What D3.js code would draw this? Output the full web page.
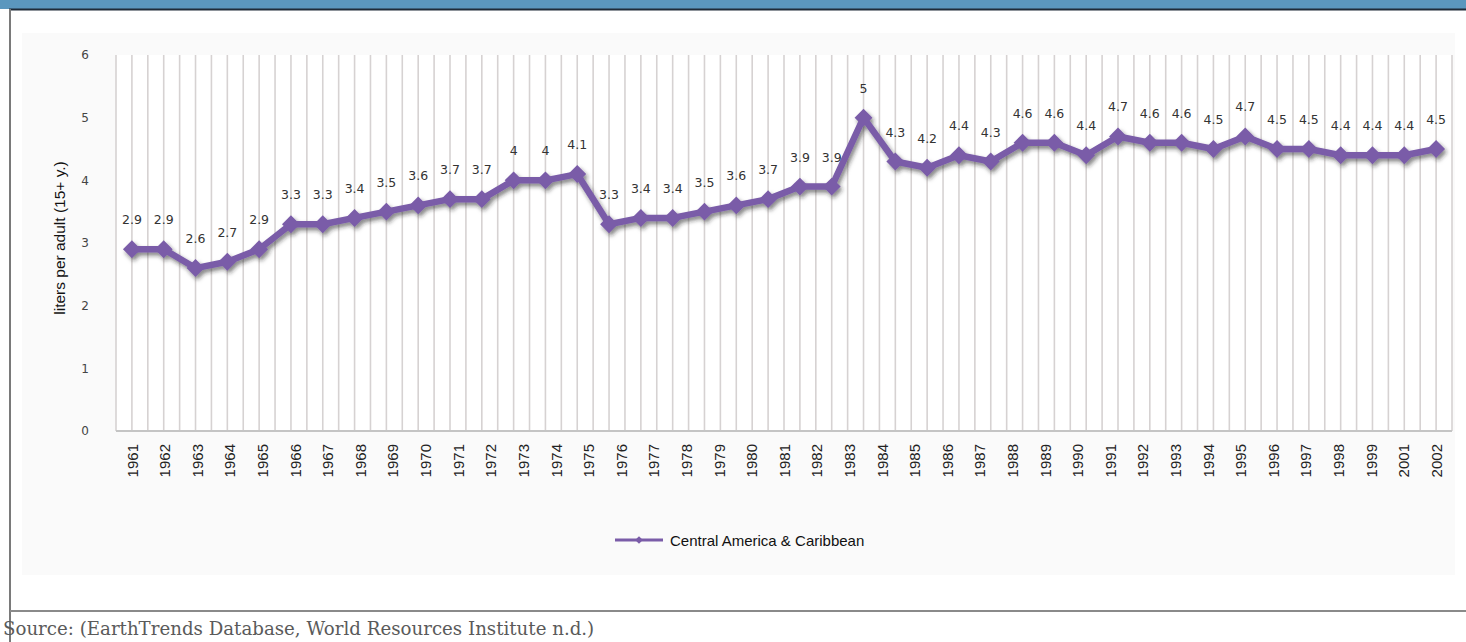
<!DOCTYPE html>
<html lang="en">
<meta charset="utf-8">
<head>
  <style>
    body { margin: 0; background: #fff; }
    .axis path, .axis line { display: none; }
  </style>
  <title></title>
</head>
<body>
<script src="https://d3js.org/d3.v7.min.js"></script>
<script>

  // year labels as printed under the axis (no 2000 in the source)
  const years = ["1961","1962","1963","1964","1965","1966","1967","1968","1969","1970",
                 "1971","1972","1973","1974","1975","1976","1977","1978","1979","1980",
                 "1981","1982","1983","1984","1985","1986","1987","1988","1989","1990",
                 "1991","1992","1993","1994","1995","1996","1997","1998","1999","2001","2002"];

  // the series itself has one more point than there are labels
  const values = [2.9, 2.9, 2.6, 2.7, 2.9, 3.3, 3.3, 3.4, 3.5, 3.6, 3.7, 3.7, 4, 4, 4.1,
                  3.3, 3.4, 3.4, 3.5, 3.6, 3.7, 3.9, 3.9, 5, 4.3, 4.2, 4.4, 4.3, 4.6, 4.6,
                  4.4, 4.7, 4.6, 4.6, 4.5, 4.7, 4.5, 4.5, 4.4, 4.4, 4.4, 4.5];

  const yTicks = [0, 1, 2, 3, 4, 5, 6];
  const seriesName = "Central America & Caribbean";
  const yTitle = "liters per adult (15+ y.)";
  const source = "Source: (EarthTrends Database, World Resources Institute n.d.)";

  const W = 1466, H = 642;
  const plot = {left: 116, right: 1452, top: 55, bottom: 431};
  const purple = "#7a5ca8";

  const svg = d3.select("body").append("svg")
      .attr("width", W)
      .attr("height", H);

  const defs = svg.append("defs");
  const f = defs.append("filter").attr("id", "shadow")
      .attr("x", "-20%").attr("y", "-20%").attr("width", "140%").attr("height", "140%");
  f.append("feDropShadow")
      .attr("dx", 2).attr("dy", 3).attr("stdDeviation", 2)
      .attr("flood-color", "#222").attr("flood-opacity", 0.55);

  // page frame
  svg.append("rect").attr("x", 0).attr("y", 0).attr("width", W).attr("height", 9)
      .attr("fill", "#5b97be");
  svg.append("line").attr("x1", 9).attr("x2", W).attr("y1", 9.5).attr("y2", 9.5)
      .attr("stroke", "#1f2b38").attr("stroke-width", 2);
  svg.append("line").attr("x1", 10).attr("x2", 10).attr("y1", 9).attr("y2", H)
      .attr("stroke", "#7a7a7a").attr("stroke-width", 2);
  svg.append("line").attr("x1", 10).attr("x2", W).attr("y1", 611).attr("y2", 611)
      .attr("stroke", "#8a8a8a").attr("stroke-width", 2);

  svg.append("text")
      .attr("x", 3).attr("y", 635)
      .attr("font-family", "DejaVu Serif, Liberation Serif, serif")
      .attr("font-size", 18.2)
      .attr("fill", "#5a5a5a")
      .text(source);

  // chart area
  svg.append("rect").attr("x", 22).attr("y", 33).attr("width", 1433).attr("height", 542)
      .attr("fill", "#fafafa");
  svg.append("rect").attr("x", plot.left).attr("y", plot.top)
      .attr("width", plot.right - plot.left).attr("height", plot.bottom - plot.top)
      .attr("fill", "#fff");

  // scales
  const x = d3.scaleBand()
      .domain(d3.range(values.length))
      .range([plot.left, plot.right]);
  const xc = i => x(i) + x.bandwidth() / 2;

  const xLab = d3.scalePoint()
      .domain(years)
      .range([xc(0), xc(values.length - 1)]);

  const y = d3.scaleLinear().domain([0, 6]).range([plot.bottom, plot.top]);

  // vertical gridlines at every category edge and centre
  const gridX = [];
  d3.range(values.length).forEach(i => { gridX.push(x(i)); gridX.push(xc(i)); });
  gridX.push(plot.right);
  svg.append("g").selectAll("line")
      .data(gridX)
      .enter().append("line")
      .attr("x1", d => d).attr("x2", d => d)
      .attr("y1", plot.top).attr("y2", plot.bottom)
      .attr("stroke", "#d6d2d2")
      .attr("stroke-width", 1.6);

  svg.append("line")
      .attr("x1", plot.left).attr("x2", plot.right)
      .attr("y1", plot.bottom).attr("y2", plot.bottom)
      .attr("stroke", "#c4c4c4").attr("stroke-width", 2);

  // y axis
  svg.append("g")
      .attr("class", "axis")
      .attr("transform", "translate(" + (plot.left - 24) + ",0)")
      .call(d3.axisLeft(y).tickValues(yTicks).tickSize(0).tickFormat(d3.format("d")))
      .selectAll("text")
      .attr("font-family", "DejaVu Sans, sans-serif")
      .attr("font-size", 12)
      .attr("fill", "#444");

  svg.append("text")
      .attr("transform", "translate(65,238) rotate(-90)")
      .attr("text-anchor", "middle")
      .attr("font-family", "Liberation Sans, Arial, sans-serif")
      .attr("font-size", 15.5)
      .attr("fill", "#111")
      .text(yTitle);

  // x axis labels
  svg.append("g")
      .attr("class", "axis")
      .attr("transform", "translate(0," + (plot.bottom + 13) + ")")
      .call(d3.axisBottom(xLab).tickSize(0))
      .selectAll("text")
      .attr("font-family", "Liberation Sans, Arial, sans-serif")
      .attr("font-size", 15)
      .attr("fill", "#222")
      .style("text-anchor", "end")
      .attr("dx", 0)
      .attr("dy", "0.35em")
      .attr("y", 0)
      .attr("transform", "rotate(-90)");

  // series
  const line = d3.line()
      .x((d, i) => xc(i))
      .y(d => y(d));

  const series = svg.append("g").attr("filter", "url(#shadow)");
  series.append("path")
      .datum(values)
      .attr("d", line)
      .attr("fill", "none")
      .attr("stroke", purple)
      .attr("stroke-width", 6.5)
      .attr("stroke-linejoin", "round");

  series.selectAll(".pt")
      .data(values)
      .enter().append("path")
      .attr("class", "pt")
      .attr("d", d3.symbol(d3.symbolSquare, 160))
      .attr("transform", (d, i) => "translate(" + xc(i) + "," + y(d) + ") rotate(45)")
      .attr("fill", purple);

  svg.append("g").selectAll("text")
      .data(values)
      .enter().append("text")
      .attr("x", (d, i) => xc(i))
      .attr("y", d => y(d) - 25)
      .attr("text-anchor", "middle")
      .attr("font-family", "DejaVu Sans, sans-serif")
      .attr("font-size", 12.5)
      .attr("fill", "#333")
      .text(d => d);

  // legend
  const lg = svg.append("g").attr("transform", "translate(615,540)");
  lg.append("line").attr("x1", 0).attr("x2", 48).attr("y1", 0).attr("y2", 0)
      .attr("stroke", purple).attr("stroke-width", 3);
  lg.append("path")
      .attr("d", d3.symbol(d3.symbolSquare, 30))
      .attr("transform", "translate(24,0) rotate(45)")
      .attr("fill", purple);
  lg.append("text")
      .attr("x", 55).attr("y", 5.5)
      .attr("font-family", "Liberation Sans, Arial, sans-serif")
      .attr("font-size", 15)
      .attr("fill", "#111")
      .text(seriesName);

</script>
</body>
</html>
